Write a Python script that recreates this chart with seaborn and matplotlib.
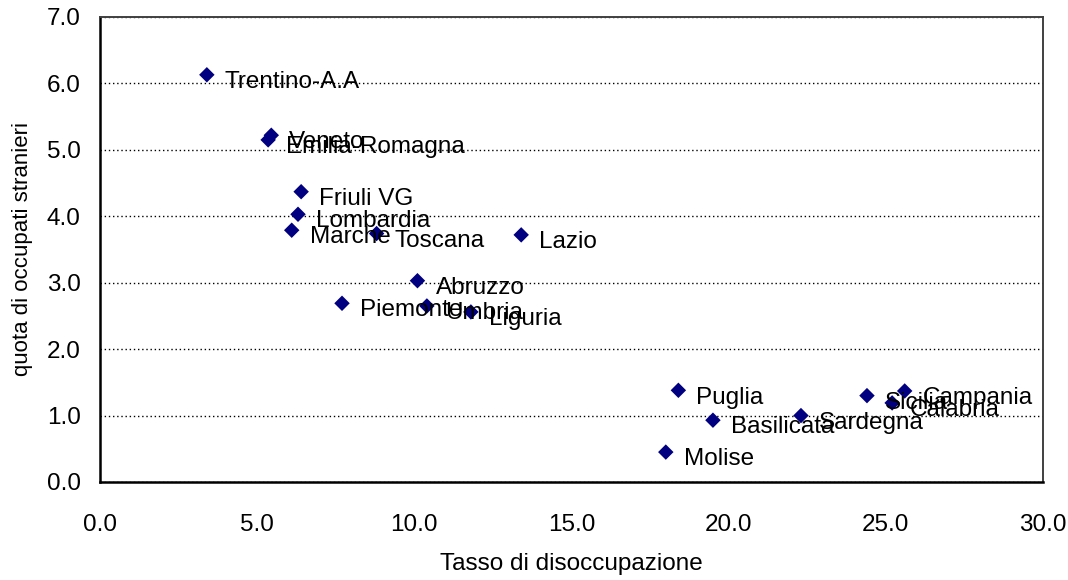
import matplotlib
matplotlib.use("Agg")
import matplotlib.pyplot as plt
import seaborn as sns
import pandas as pd

# Regioni: tasso di disoccupazione vs quota di occupati stranieri
regioni = ['Trentino-A.A', 'Veneto', 'Emilia-Romagna', 'Friuli VG', 'Lombardia',
           'Marche', 'Toscana', 'Lazio', 'Abruzzo', 'Piemonte', 'Umbria', 'Liguria',
           'Puglia', 'Basilicata', 'Molise', 'Sardegna', 'Sicilia', 'Campania', 'Calabria']
disoccupazione = [3.4, 5.45, 5.35, 6.4, 6.3, 6.1, 8.8, 13.4, 10.1, 7.7, 10.4, 11.8,
                  18.4, 19.5, 18.0, 22.3, 24.4, 25.6, 25.2]
stranieri = [6.13, 5.22, 5.15, 4.37, 4.03, 3.79, 3.74, 3.72, 3.03, 2.69, 2.65, 2.56,
             1.38, 0.93, 0.45, 1.0, 1.3, 1.37, 1.19]

x_ticks = [0, 5, 10, 15, 20, 25, 30]
y_ticks = [0, 1, 2, 3, 4, 5, 6, 7]

df = pd.DataFrame({'regione': regioni, 'disocc': disoccupazione, 'stranieri': stranieri})

sns.set_style("white")
plt.rcParams['font.family'] = ['Liberation Sans', 'DejaVu Sans']
plt.rcParams['text.color'] = 'black'
plt.rcParams['axes.labelcolor'] = 'black'

fig = plt.figure(figsize=(10.68, 5.8), dpi=100)
ax = fig.add_axes([0.0936, 0.169, 0.883, 0.8017])

sns.scatterplot(data=df, x='disocc', y='stranieri', marker='D', s=62,
                color='#000080', edgecolor='none', ax=ax, zorder=3)

# etichette dei punti
for _, r in df.iterrows():
    ax.annotate(r['regione'], (r['disocc'], r['stranieri']), xytext=(13, -9.5),
                textcoords='offset points', fontsize=17.5, va='baseline', ha='left',
                color='black', zorder=4)

ax.set_xlim(0, 30)
ax.set_ylim(0, 7)
ax.set_xticks(x_ticks)
ax.set_yticks(y_ticks)
ax.set_xticklabels([f'{v:.1f}' for v in x_ticks])
ax.set_yticklabels([f'{v:.1f}' for v in y_ticks])
ax.tick_params(axis='both', labelsize=17.5, direction='out', length=6, width=1.3,
               color='black', labelcolor='black')
ax.tick_params(axis='x', pad=17)
ax.tick_params(axis='y', pad=8)

ax.yaxis.grid(True, color='black', linestyle=(0, (1, 2)), linewidth=1)
ax.xaxis.grid(False)
ax.set_axisbelow(True)

for s in ['left', 'bottom']:
    ax.spines[s].set_color('black')
    ax.spines[s].set_linewidth(1.8)
for s in ['top', 'right']:
    ax.spines[s].set_color('#404040')
    ax.spines[s].set_linewidth(1.4)

ax.set_xlabel('Tasso di disoccupazione', fontsize=17.5, labelpad=12)
ax.set_ylabel('quota di occupati stranieri', fontsize=16, labelpad=10)

fig.savefig('out.png', dpi=100, facecolor='white')
